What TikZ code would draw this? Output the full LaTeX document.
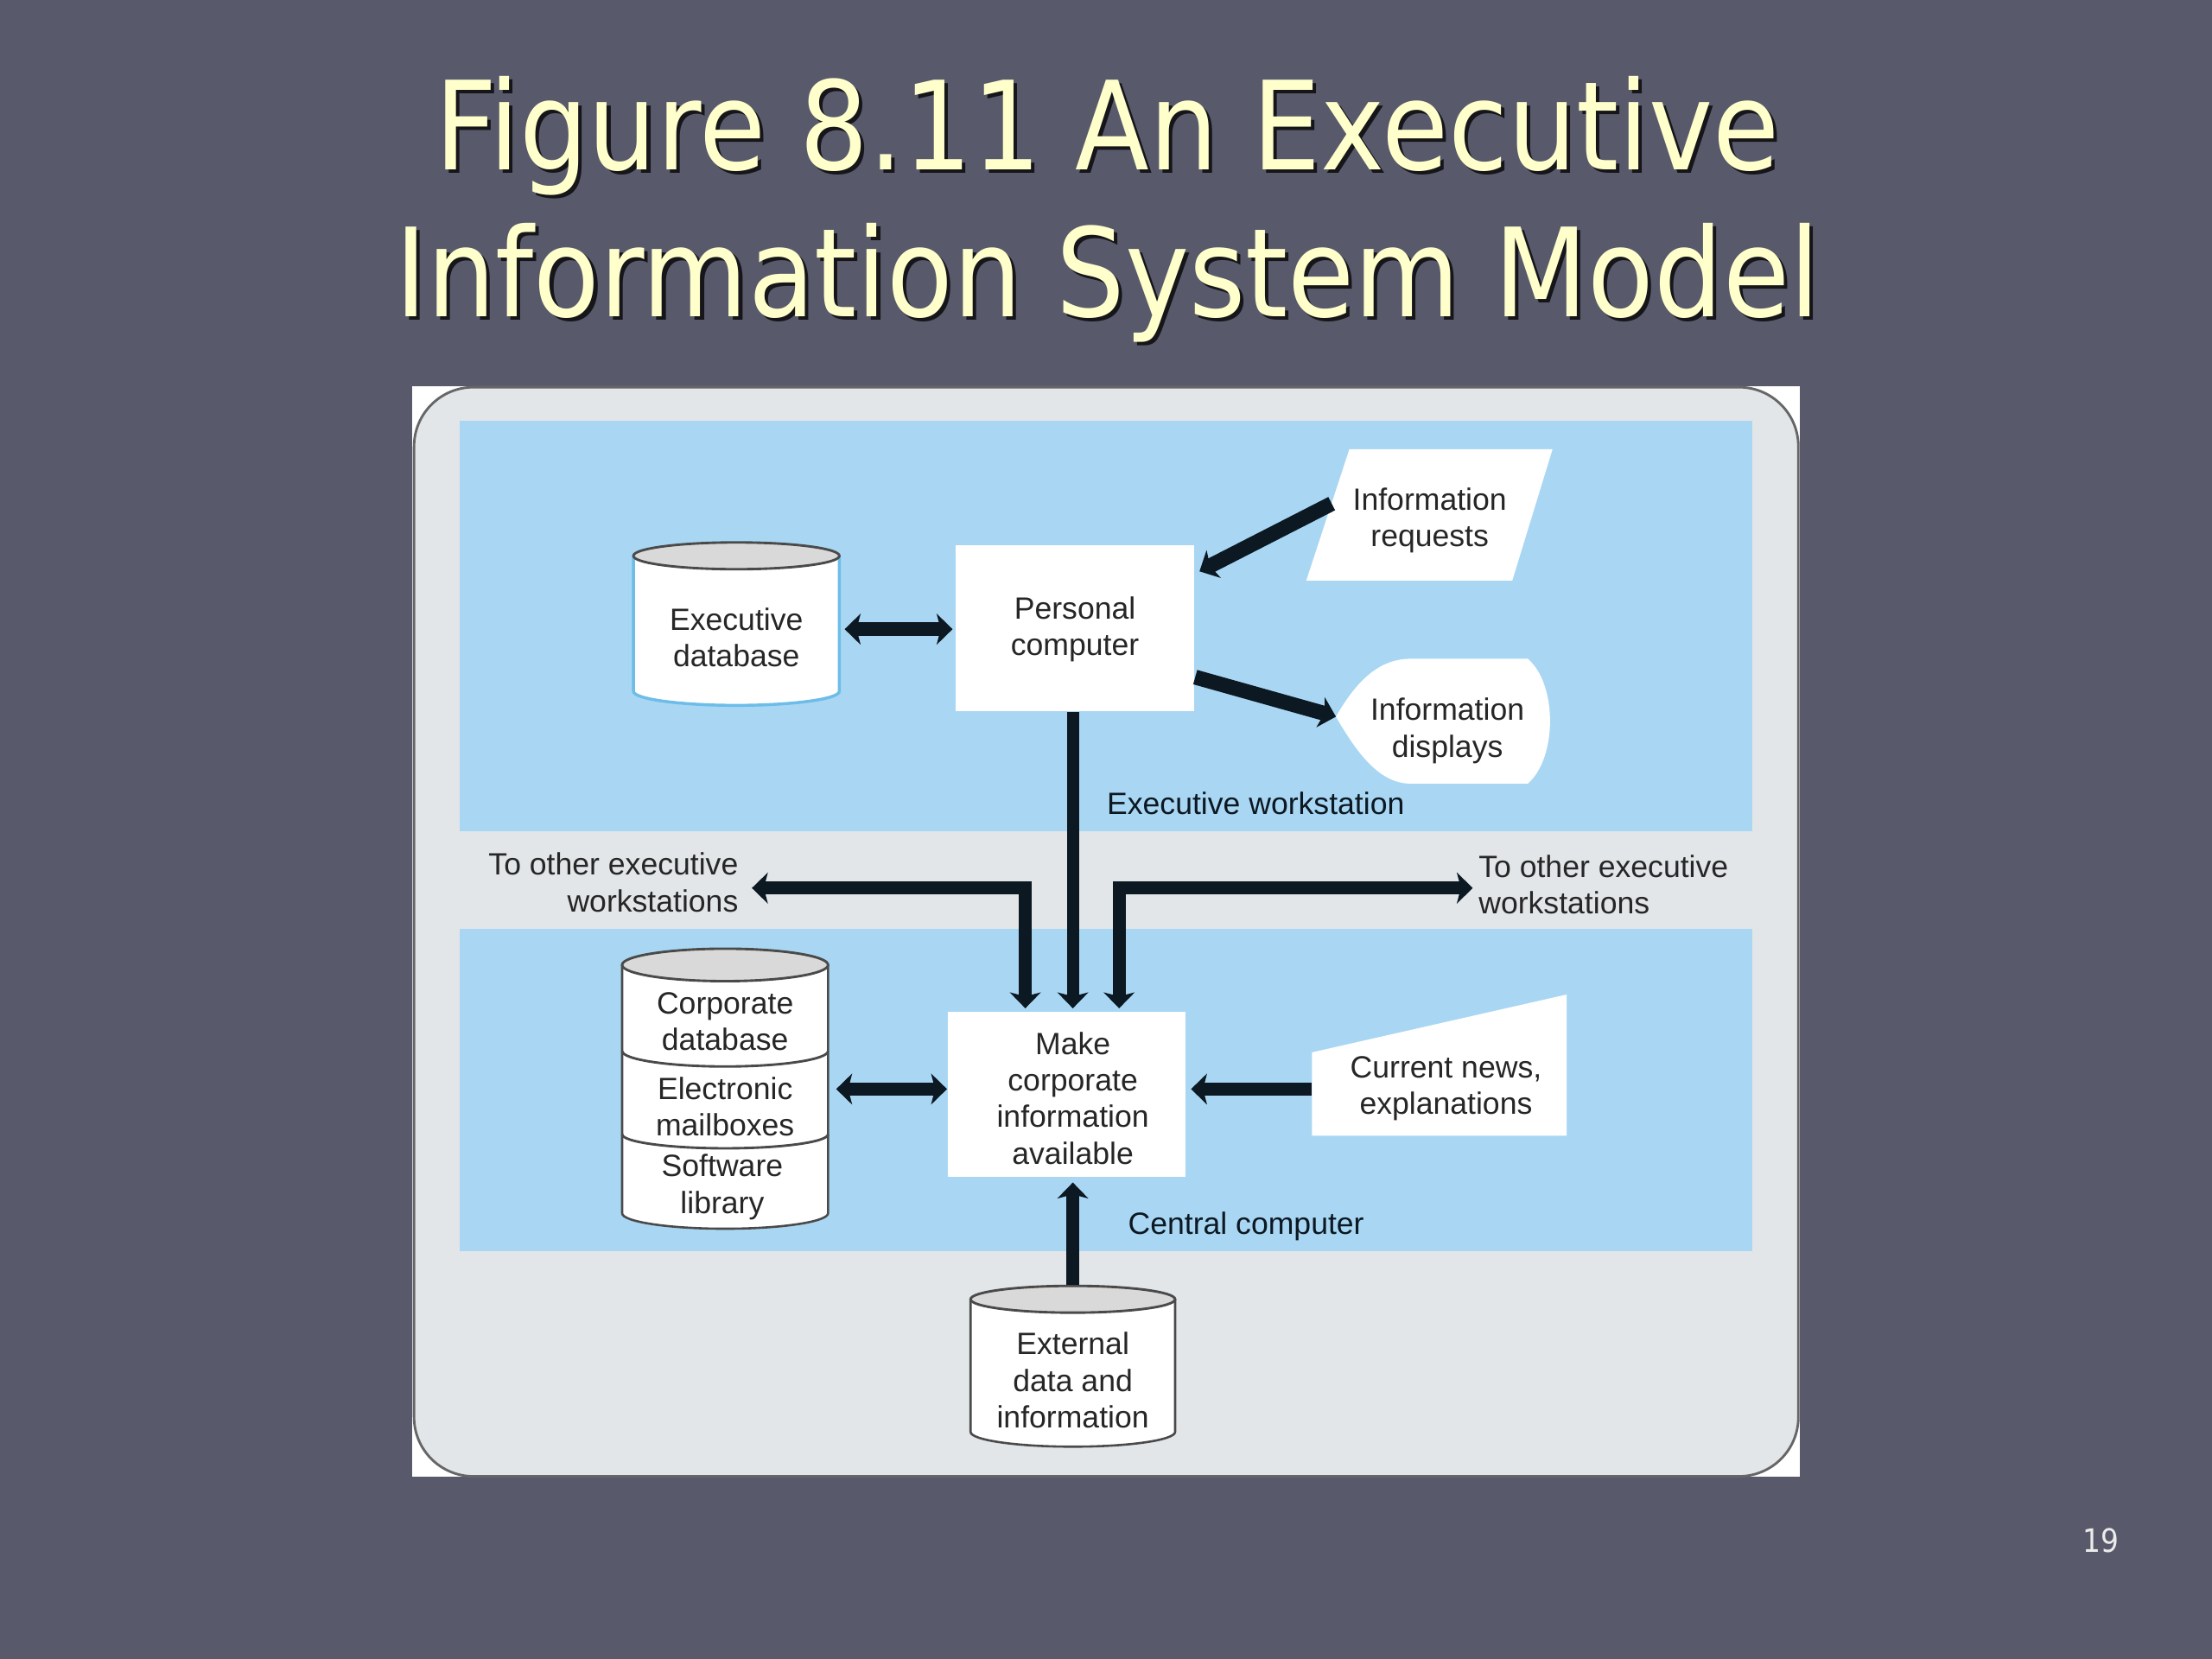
\documentclass[tikz,border=0pt]{standalone}
\usepackage{fontspec}
\setmainfont{Liberation Sans}
\newfontfamily\titlefont[FakeStretch=0.88]{DejaVu Sans}
\usetikzlibrary{arrows.meta,calc}
\definecolor{slide}{HTML}{585A6B}
\definecolor{panel}{HTML}{A9D7F3}
\definecolor{framegray}{HTML}{E2E6E8}
\definecolor{ink}{HTML}{0C1822}
\definecolor{titleyellow}{HTML}{FFFFCC}
\definecolor{capgray}{HTML}{D9D9D9}
\definecolor{outl}{HTML}{4A4A4A}
\definecolor{dbside}{HTML}{6DBDE8}
\begin{document}
\begin{tikzpicture}[x=0.01cm,y=-0.01cm,
  txt/.style={font=\fontsize{6.2}{7.4}\selectfont, text=black!85, align=center, inner sep=0pt},
  lab/.style={font=\fontsize{6.2}{7.4}\selectfont, text=ink, inner sep=0pt},
  whitebox/.style={fill=white, draw=none, inner sep=0pt},
  body/.style={draw=none, inner sep=0pt},
  mytip/.tip={Stealth[length=3.2pt,width=6.2pt,inset=0.8pt]},
  flow/.style={draw=ink, line width=2.7pt, -mytip},
  dflow/.style={draw=ink, line width=2.7pt, mytip-mytip},
  cylside/.style={fill=white, draw=outl, line width=0.45pt},
  cyltop/.style={fill=capgray, draw=outl, line width=0.5pt},
  titletxt/.style={font=\titlefont\fontsize{24.8}{30}\selectfont, inner sep=0pt, anchor=base}
]
% slide background
\fill[slide] (0,0) rectangle (1568,1176);
\useasboundingbox (0,0) rectangle (1568,1176);

% title with shadow
\node[titletxt, text=black, opacity=0.75] at (787.5,123) {Figure 8.11 An Executive};
\node[titletxt, text=titleyellow] (t1) at (785,120.5) {Figure 8.11 An Executive};
\node[titletxt, text=black, opacity=0.75] at (787.5,227) {Information System Model};
\node[titletxt, text=titleyellow] (t2) at (785,224.5) {Information System Model};

% figure frame
\fill[white] (292,273.6) rectangle (1276,1047);
\draw[fill=framegray, draw=black!60, line width=0.5pt, rounded corners=0.42cm] (293.5,274.5) rectangle (1274.8,1046.5);

% panels
\fill[panel] (325.8,298) rectangle (1242,589);
\fill[panel] (325.8,658.5) rectangle (1242,887);

% ---------- Executive database cylinder ----------
\fill[white] (449,394) -- (449,490) .. controls (449,495.5) and (481.7,500) .. (522,500)
   .. controls (562.3,500) and (595,495.5) .. (595,490) -- (595,394) -- cycle;
\draw[dbside, line width=0.6pt] (449,394) -- (449,490) .. controls (449,495.5) and (481.7,500) .. (522,500)
   .. controls (562.3,500) and (595,495.5) .. (595,490) -- (595,394);
\draw[cyltop] (522,394) ellipse [x radius=73, y radius=9.5];
\node[body, minimum width=1.46cm, minimum height=1.0cm] (edbbody) at (522,446) {};
\node[txt] (edb) at (522,452) {Executive\\database};

% ---------- Personal computer ----------
\node[whitebox, minimum width=1.69cm, minimum height=1.175cm] (pcbox) at (762,445.5) {};
\node[txt] (pc) at (762,446) {Personal\\computer};

% ---------- Information requests (parallelogram) ----------
\fill[white] (956.5,318.5) -- (1100.5,318.5) -- (1072,411.5) -- (926,411.5) -- cycle;
\node[txt] (ireq) at (1013.5,369) {Information\\requests};
\coordinate (ireqL) at (944,357);

% ---------- Information displays ----------
\fill[white] (947,508) .. controls (962,482) and (978,467) .. (1000,467) -- (1083,467)
   .. controls (1104,485) and (1104,537) .. (1083,555.5) -- (1000,555.5)
   .. controls (978,555.5) and (962,534) .. (947,508) -- cycle;
\node[txt] (disp) at (1026,518) {Information\\displays};
\coordinate (dispL) at (947,508);

% ---------- Make corporate information available ----------
\node[whitebox, minimum width=1.685cm, minimum height=1.17cm] (make) at (756.3,775.5) {};
\node[txt] (maketxt) at (760.5,778.5) {Make\\corporate\\information\\available};

% ---------- Corporate stack cylinder ----------
\fill[white] (441,684) -- (441,860) .. controls (441,866) and (473.7,871) .. (514,871)
   .. controls (554.3,871) and (587,866) .. (587,860) -- (587,684) -- cycle;
\draw[cylside] (441,684) -- (441,860) .. controls (441,866) and (473.7,871) .. (514,871)
   .. controls (554.3,871) and (587,866) .. (587,860) -- (587,684);
\draw[outl, line width=0.5pt] (441,745) .. controls (441,751) and (473.7,756) .. (514,756)
   .. controls (554.3,756) and (587,751) .. (587,745);
\draw[outl, line width=0.5pt] (441,804) .. controls (441,809.5) and (473.7,814) .. (514,814)
   .. controls (554.3,814) and (587,809.5) .. (587,804);
\draw[cyltop] (514,684) ellipse [x radius=73, y radius=11.5];
\node[body, minimum width=1.46cm, minimum height=1.98cm] (stack) at (514,772) {};
\node[txt] (corp) at (514,724) {Corporate\\database};
\node[txt] (mail) at (514,784.5) {Electronic\\mailboxes};
\node[txt] (soft) at (512,841.5) {Software\\library};

% ---------- Current news ----------
\fill[white] (930,746) -- (1110.5,705) -- (1110.5,805) -- (930,805) -- cycle;
\node[txt] (news) at (1025,771.5) {Current news,\\explanations};
\coordinate (newsL) at (930,772);

% ---------- External data cylinder ----------
\fill[white] (688,921) -- (688,1015) .. controls (688,1020.8) and (720.5,1025.5) .. (760.5,1025.5)
   .. controls (800.5,1025.5) and (833,1020.8) .. (833,1015) -- (833,921) -- cycle;
\draw[cylside] (688,921) -- (688,1015) .. controls (688,1020.8) and (720.5,1025.5) .. (760.5,1025.5)
   .. controls (800.5,1025.5) and (833,1020.8) .. (833,1015) -- (833,921);
\draw[cyltop] (760.5,921) ellipse [x radius=72.5, y radius=9.5];
\node[body, minimum width=1.45cm, minimum height=1.14cm] (ext) at (760.5,968.5) {};
\node[txt] (exttxt) at (760.5,978.5) {External\\data and\\information};

% ---------- labels ----------
\node[lab, anchor=west] (ews) at (784,569.5) {Executive workstation};
\node[lab, anchor=west] (cc) at (799,869.5) {Central computer};
\node[txt, text=black!85, align=right, anchor=east] (toLtxt) at (524,625.5) {To other executive\\workstations};
\node[txt, text=black!85, align=left, anchor=west] (toRtxt) at (1047.5,627) {To other executive\\workstations};
\coordinate (toL) at (533,629.5);
\coordinate (toR) at (1044,629.5);

% ---------- connectors ----------
\draw[dflow, shorten <=0.03cm, shorten >=0.015cm] (edbbody.east) -- (edbbody.east -| pcbox.west);
\draw[flow, line width=3pt] (ireqL) -- ($(pcbox.north east)+(3,19)$);
\draw[flow, line width=3pt] ($(pcbox.south east)+(0,-25)$) -- (dispL);
\draw[flow, line width=2.4pt, shorten >=0.015cm] (pcbox.south -| maketxt) -- (maketxt |- make.north);
\draw[dflow, line width=2.6pt, shorten >=0.015cm] (toL) -| ($(make.north)+(-29.5,0)$);
\draw[dflow, line width=2.6pt, shorten <=0.015cm] ($(make.north)+(37,0)$) |- (toR);
\draw[dflow, shorten <=0.05cm] (stack.east) -- (stack.east -| make.west);
\draw[flow, shorten >=0.03cm] (newsL) -- (newsL -| make.east);
\draw[flow, shorten >=0.035cm] (ext.north) -- (ext.north |- make.south);

% page number
\node[font=\titlefont\fontsize{6.5}{8}\selectfont, text=white!92!black, inner sep=0pt] (pg) at (1489,1092) {19};
\end{tikzpicture}
\end{document}
